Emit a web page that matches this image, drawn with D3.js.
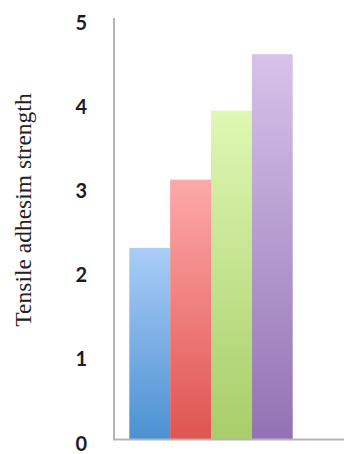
<!DOCTYPE html>
<html>
<head>
<meta charset="utf-8">
<script src="https://cdn.jsdelivr.net/npm/d3@7"></script>
<style>
  html, body { margin: 0; padding: 0; background: #fff; }
  svg { display: block; }
</style>
</head>
<body>
<div id="chart"></div>
<script>
// ---- data ----
const categories = ["A", "B", "C", "D"];
const values = [2.27, 3.08, 3.90, 4.57];
const yTicks = [0, 1, 2, 3, 4, 5];
const axisTitle = "Tensile adhesim strength";
const topColors = ["#abcdf7", "#fda9a9", "#dff8b3", "#d6c3ea"];
const bottomColors = ["#4b91d2", "#df5450", "#a8cd69", "#9372b3"];

const W = 344, H = 454;
const svg = d3.select("#chart").append("svg")
  .attr("width", W).attr("height", H);

const y = d3.scaleLinear().domain([0, 5]).range([439, 18]);
const x = d3.scaleBand().domain(categories).range([129.3, 292.7]).padding(0);

// gradients
const defs = svg.append("defs");
categories.forEach((c, i) => {
  const g = defs.append("linearGradient")
    .attr("id", "grad" + i)
    .attr("x1", 0).attr("y1", 0).attr("x2", 0).attr("y2", 1);
  g.append("stop").attr("offset", "0%").attr("stop-color", topColors[i]);
  g.append("stop").attr("offset", "100%").attr("stop-color", bottomColors[i]);
});

// bars
svg.append("g").selectAll("rect")
  .data(values)
  .join("rect")
  .attr("x", (d, i) => x(categories[i]))
  .attr("width", x.bandwidth())
  .attr("y", d => y(d))
  .attr("height", d => y(0) - y(d))
  .attr("fill", (d, i) => `url(#grad${i})`);

// axis lines
const axisColor = "#b5b5b5";
svg.append("line")
  .attr("x1", 114).attr("x2", 114)
  .attr("y1", y(5)).attr("y2", y(0) + 1)
  .attr("stroke", axisColor).attr("stroke-width", 2);
svg.append("line")
  .attr("x1", 113).attr("x2", W)
  .attr("y1", y(0) + 0.5).attr("y2", y(0) + 0.5)
  .attr("stroke", axisColor).attr("stroke-width", 2);

// y axis tick labels
const yAxis = d3.axisLeft(y).tickValues(yTicks).tickSize(0).tickPadding(27)
  .tickFormat(d3.format("d"));
const gy = svg.append("g").attr("transform", "translate(114,0)").call(yAxis);
gy.select(".domain").remove();
gy.selectAll("text")
  .attr("font-family", "Lato, 'Open Sans', sans-serif")
  .attr("font-weight", 700)
  .attr("font-size", 20)
  .attr("fill", "#1c1c28")
  .attr("dy", "0.55em");

// axis title
svg.append("text")
  .attr("transform", "translate(31,210) rotate(-90)")
  .attr("text-anchor", "middle")
  .attr("font-family", "'Liberation Serif', 'Times New Roman', serif")
  .attr("font-size", 23.5)
  .attr("fill", "#222")
  .text(axisTitle);
</script>
</body>
</html>
